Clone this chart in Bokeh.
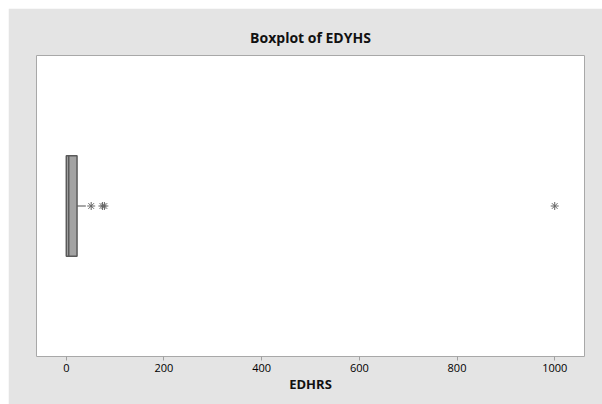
from bokeh.plotting import figure
from bokeh.models import FixedTicker, Range1d
from bokeh.embed import file_html
from bokeh.resources import INLINE

# Summary statistics of EDHRS
q1 = [0.0]
median = [5.0]
q3 = [22.0]
whisker_low = [0.0]
whisker_high = [40.0]
outliers = [51.0, 74.0, 78.0, 1000.0]
tick_values = [0, 200, 400, 600, 800, 1000]

YC = 1.5  # vertical centre of the single box

p = figure(width=594, height=396, output_backend="svg", toolbar_location=None,
           x_range=Range1d(-61, 1061), y_range=Range1d(0, 3),
           min_border_left=28, min_border_right=18, min_border_top=47, min_border_bottom=48)
p.margin = (8, 0, 0, 8)

p.background_fill_color = "white"
p.border_fill_color = "#e4e4e4"
p.outline_line_color = "#a8a8a8"
p.outline_line_width = 1
p.xgrid.visible = False
p.ygrid.visible = False
p.yaxis.visible = False

p.title.text = "Boxplot of EDYHS"
p.title.align = "center"
p.title.text_font = "Open Sans"
p.title.text_font_size = "14px"
p.title.text_font_style = "bold"
p.title.text_color = "#111111"
p.title.standoff = 17

ax = p.xaxis[0]
ax.ticker = FixedTicker(ticks=tick_values)
ax.axis_line_color = None
ax.major_tick_in = 0
ax.major_tick_out = 4
ax.major_tick_line_color = "#a0a0a0"
ax.minor_tick_line_color = None
ax.major_label_text_font = "Open Sans"
ax.major_label_text_font_size = "11px"
ax.major_label_text_color = "#000000"
ax.major_label_standoff = 3
ax.axis_label = "EDHRS"
ax.axis_label_text_font = "Open Sans"
ax.axis_label_text_font_size = "13px"
ax.axis_label_text_font_style = "bold"
ax.axis_label_text_color = "#111111"
ax.axis_label_standoff = 0

# whisker
p.segment(x0=[q3[0]], y0=[YC], x1=[whisker_high[0]], y1=[YC], line_color="#8a8a8a", line_width=1.5)
# box
p.quad(left=q1, right=q3, bottom=[YC - 0.5], top=[YC + 0.5],
       fill_color="#a3a3a3", line_color="#5a5a5a", line_width=1.5)
# median
p.segment(x0=median, y0=[YC - 0.5], x1=median, y1=[YC + 0.5], line_color="#5a5a5a", line_width=1.5)
# outliers
p.scatter(x=outliers, y=[YC] * len(outliers), marker="asterisk", size=8,
          line_color="#666666", line_width=1.0)

open("out.html", "w").write(file_html(p, INLINE))
